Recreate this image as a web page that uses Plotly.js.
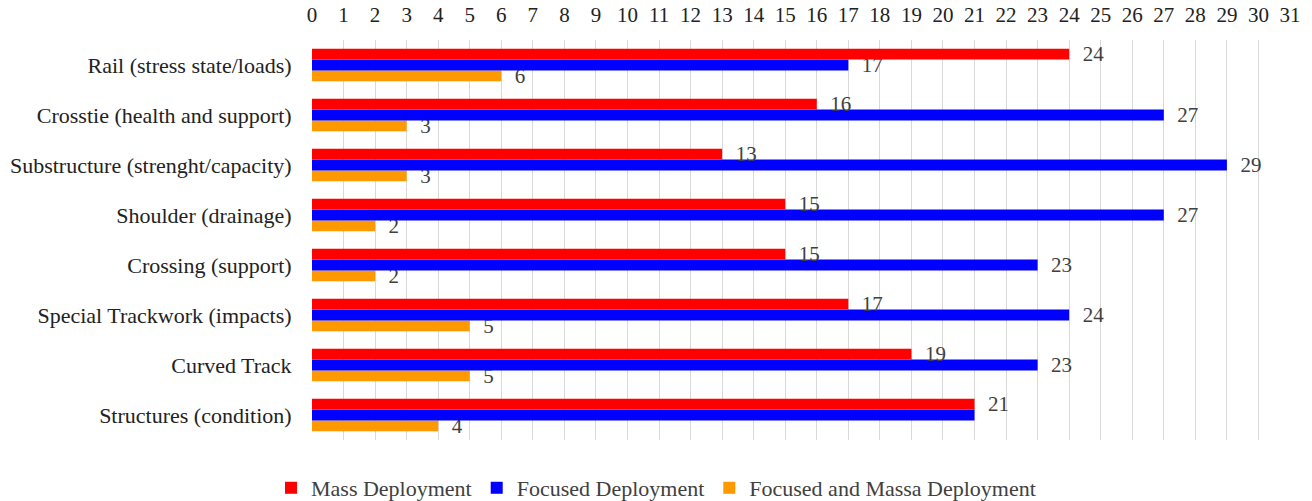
<!DOCTYPE html>
<html>
<head>
<meta charset="utf-8">
<script src="https://cdn.plot.ly/plotly-3.0.1.min.js"></script>
<style>html,body{margin:0;padding:0;background:#fff;}#chart{width:1312px;height:501px;}</style>
</head>
<body>
<div id="chart"></div>
<script>
const categories = [
  "Rail (stress state/loads)",
  "Crosstie (health and support)",
  "Substructure (strenght/capacity)",
  "Shoulder (drainage)",
  "Crossing (support)",
  "Special Trackwork (impacts)",
  "Curved Track",
  "Structures (condition)"
];
const massDeployment = [24, 16, 13, 15, 15, 17, 19, 21];
const focusedDeployment = [17, 27, 29, 27, 23, 24, 23, 21];
const focusedAndMassa = [6, 3, 3, 2, 2, 5, 5, 4];
const seriesNames = ["Mass Deployment", "Focused Deployment", "Focused and Massa Deployment"];
const seriesColors = ["#FF0000", "#0000FF", "#FF9900"];
const xTicks = Array.from({length: 32}, (_, i) => i);

const W = 0.217;
const FONT = "Liberation Serif, Times New Roman, serif";
function mk(vals, idx, offset, labels) {
  return {
    type: 'bar', orientation: 'h', name: seriesNames[idx],
    y: categories, x: vals,
    width: W, offset: offset,
    marker: {color: seriesColors[idx], line: {width: 0}},
    text: labels.map(v => v === '' ? '' : '  ' + v),
    texttemplate: '%{text}',
    textposition: 'outside',
    constraintext: 'none',
    cliponaxis: false,
    textfont: {family: FONT, size: 21, color: '#404040'},
    legendrank: idx + 1,
    hoverinfo: 'skip'
  };
}
// where the two longer bars end at the same value, the reference shows one label only
const focusedLabels = focusedDeployment.map((v, i) => v === massDeployment[i] ? '' : String(v));
const data = [
  mk(focusedAndMassa, 2, W / 2, focusedAndMassa.map(String)),
  mk(focusedDeployment, 1, -W / 2, focusedLabels),
  mk(massDeployment, 0, -1.5 * W, massDeployment.map(String))
];
const layout = {
  width: 1312, height: 501,
  margin: {l: 312, r: 22, t: 40, b: 61},
  barmode: 'overlay',
  paper_bgcolor: '#fff', plot_bgcolor: '#fff',
  font: {family: FONT, size: 22, color: '#222'},
  xaxis: {
    side: 'top', range: [0, 31], tickvals: xTicks, ticktext: xTicks.map(String),
    showgrid: true, gridcolor: '#d9d9d9', gridwidth: 1, zeroline: false, showline: false,
    ticks: 'outside', ticklen: 9, tickcolor: 'rgba(0,0,0,0)',
    tickfont: {family: FONT, size: 21, color: '#222'}, fixedrange: true
  },
  yaxis: {
    type: 'category', autorange: 'reversed', showgrid: false, zeroline: false, showline: false,
    ticks: 'outside', ticklen: 15, tickcolor: 'rgba(0,0,0,0)',
    tickfont: {family: FONT, size: 22, color: '#222'}, fixedrange: true
  },
  showlegend: true,
  legend: {
    orientation: 'h', xref: 'container', yref: 'container',
    x: 0.5, xanchor: 'center', y: 0.026, yanchor: 'middle',
    traceorder: 'normal',
    font: {family: FONT, size: 22, color: '#404040'},
    itemwidth: 30
  }
};
Plotly.newPlot('chart', data, layout, {displayModeBar: false, staticPlot: true});
</script>
</body>
</html>
